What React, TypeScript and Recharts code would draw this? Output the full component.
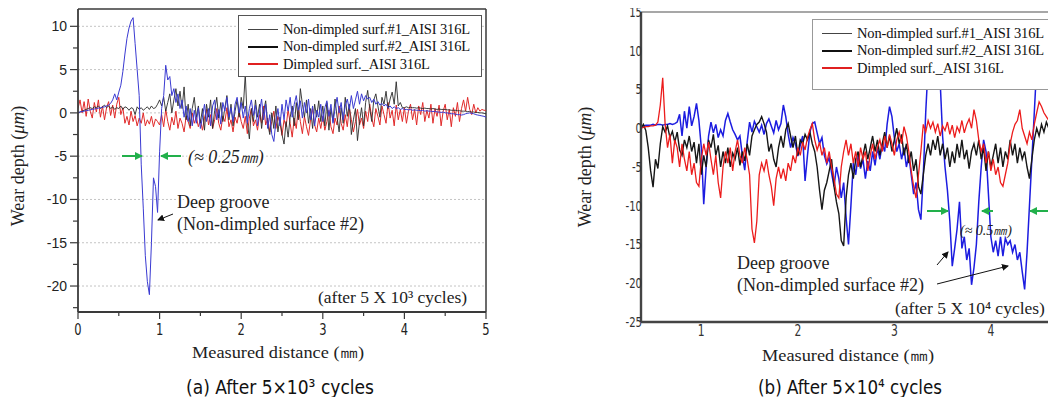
import { LineChart, Line, XAxis, YAxis, ReferenceLine } from "recharts"

// profiles are sampled every 0.025 mm
const STEP = 0.025

// ---- (a) after 5x10^3 cycles ----
const A_START = 0
const A_SURF1 = [
  0, 0.1, 0.2, 0.3, 0.4, 0.5, 0.6, 0.5, 0.7, 0.6, 0.8, 0.5, 0.7, 0.9, 0.6, 0.8, 0.5, 0.7, 0.4, 0.6,
  0.5, 0.8, 0.4, 0.7, 0.6, 0.3, 0.6, 0.5, -0.2, 0.7, 0.4, 0.6, 0.3, 0.5, 0.7, 0.4, 0.8, 0.5, 0.6, 1.0,
  1.5, 0.8, 1.8, 0.2, 1.2, 2.2, 0.0, 1.5, 2.8, 0.8, 2.5, 0.5, 3.0, -0.8, 1.0, -1.5, 0.5, 1.8, -0.5, 0.8,
  -1.2, 0.5, -2.0, 1.0, -0.5, 1.5, -1.8, 0.3, 1.8, -0.6, 1.2, -1.0, 0.6, 2.0, -0.8, 1.0, -1.5, 0.2, 1.5, -0.5,
  1.8, 0.5, 4.5, -1.0, -3.0, 0.5, -1.0, 1.5, -0.5, 1.0, -1.8, 0.2, 1.4, -1.2, -2.5, 0.0, -1.8, 0.8, -2.2, -0.5,
  -2.5, -3.6, -1.0, -2.8, -0.5, 0.8, -1.5, 1.2, -0.8, 2.8, 1.0, -0.5, 1.5, -1.2, 0.5, -1.8, 1.0, -0.5, 1.4, -1.0,
  0.8, -1.5, 1.2, -2.0, 0.5, -1.0, 1.6, -0.5, -2.2, 0.6, -1.2, 1.8, -0.4, 1.0, -2.5, -0.8, 0.5, -3.2, -1.0, 0.6,
  -1.5, 1.2, 2.6, 0.5, -1.0, 1.5, 2.2, 0.8, -0.5, 1.8, 1.0, 2.5, 0.5, 1.6, 2.4, 1.0, 3.6, 0.8, 1.2, 0.6,
  0.6, 0.7, 0.6, 0.65, 0.6, 0.6, 0.55, 0.6, 0.55, 0.5, 0.55, 0.5, 0.5, 0.45, 0.5, 0.45, 0.4, 0.45, 0.4, 0.4,
  0.4, 0.35, 0.35, 0.3, 0.3, 0.3, 0.25, 0.25, 0.2, 0.2, 0.2, 0.15, 0.15, 0.1, 0.1, 0.05, 0.05, 0.0, 0.0, -0.05,
  -0.1,
]
const A_SURF2 = [
  0, 0.1, 0.15, 0.2, 0.25, 0.3, 0.35, 0.4, 0.45, 0.5, 0.55, 0.6, 0.65, 0.7, 0.8, 0.9, 1.1, 1.5, 2.2, 1.5,
  2.4, 3.2, 4.8, 6.8, 8.6, 9.8, 10.6, 11.0, 8.0, 5.0, 2.0, -6.0, -11.0, -16.5, -19.5, -21.0, -15.0, -7.5, -8.5, -11.5,
  -4.5, 0.5, 2.0, 5.5, 3.8, 4.2, 2.0, 2.8, 1.2, 2.2, 0.5, 1.5, -0.5, 0.8, -1.0, 0.5, -1.5, 0.3, -1.2, 0.6,
  -1.8, -0.5, 1.0, -1.0, 0.5, -1.5, 0.8, 1.5, -0.8, 0.4, -1.3, 1.2, 0.2, 1.8, -0.5, 0.6, -1.0, 1.0, 1.8, 0.0,
  1.2, -0.6, 0.8, -1.2, 0.5, 1.5, -0.3, 0.9, -1.5, 0.2, 1.6, -0.8, 1.0, -1.8, -0.2, -2.5, -3.3, -1.0, 0.5, -1.5,
  1.0, -0.8, 1.5, 0.2, 1.8, -0.5, 1.0, 2.0, 0.3, 1.4, -0.6, 1.2, 0.0, 1.6, -0.8, 0.8, -1.5, 0.3, -0.5, 1.0,
  -1.0, 0.6, 1.4, -0.4, 1.0, -1.2, 0.5, 1.8, 0.0, 1.2, -0.8, 0.8, 1.6, 0.4, 2.0, 0.5, 1.5, 2.5, 1.0, 2.2,
  1.4, 2.0, 1.6, 1.8, 1.2, 1.6, 1.0, 1.3, 0.9, 1.1, 0.8, 1.0, 0.6, 0.8, 0.5, 0.7, 0.5, 0.6, 0.4, 0.5,
  0.4, 0.4, 0.35, 0.4, 0.3, 0.35, 0.3, 0.3, 0.25, 0.3, 0.2, 0.25, 0.2, 0.2, 0.15, 0.2, 0.1, 0.1, 0.05, 0.1,
  0.0, 0.0, -0.05, -0.1, -0.1, -0.15, -0.2, -0.2, -0.25, -0.2, -0.1, -0.05, 0.0, -0.05, -0.1, -0.2, -0.25, -0.3, -0.35, -0.4,
  -0.5,
]
const A_DIMPLED = [
  0.5, 1.5, 0.0, 1.3, -0.4, 1.6, 0.2, -0.6, 1.2, 0.1, 1.5, -0.5, 0.8, -0.8, 0.6, 1.3, -0.3, 0.9, -0.6, 1.0,
  1.8, -0.2, 0.6, -1.2, -0.4, -1.4, 0.2, -1.0, -0.3, -1.5, -0.6, -1.2, 0.0, -1.5, -0.8, -1.3, -0.4, -1.6, -0.7, -1.0,
  -1.4, -0.2, -1.6, 0.4, -1.0, -2.0, -0.5, -1.4, 0.2, -1.8, -0.6, -1.2, -2.2, -0.4, -1.0, -1.8, 0.0, -1.2, -0.5, -1.6,
  -0.8, -2.0, -0.6, 0.4, -1.4, -0.2, -1.8, -0.8, 0.5, -1.2, -2.0, -0.4, -1.0, 0.6, -1.6, -0.8, -2.2, -0.5, -1.2, 0.2,
  -1.0, -1.8, -0.4, -2.4, -0.6, 0.5, -1.5, -0.8, -2.0, -0.2, -1.2, 0.8, -1.4, -0.6, -2.2, -1.0, 0.2, -1.8, -0.4, -1.2,
  -2.6, -0.8, -1.6, 0.4, -1.2, -2.8, -0.6, -1.8, 0.6, -1.0, -2.4, -0.4, -1.6, -2.6, -0.8, 0.5, -1.4, -2.2, -0.6, -1.8,
  -0.4, -2.0, -1.0, 0.3, -1.6, -2.4, -0.6, -1.4, 0.8, -1.2, -2.0, -0.2, -1.6, 0.6, -0.8, -2.2, -1.0, 0.4, -1.4, -0.6,
  -1.8, 0.2, -1.0, 1.0, -0.6, -1.6, 0.5, -0.4, -1.4, 0.8, -0.2, -1.2, 1.2, -0.6, 0.3, -1.5, 0.9, -0.8, 0.4, -1.0,
  0.6, -1.2, 0.2, 1.0, -0.8, 0.4, -1.4, 0.8, -0.2, 1.2, -1.0, 0.3, -0.6, 1.0, -1.2, 0.5, -0.4, 0.9, -1.5, 0.2,
  1.0, -0.8, 0.4, -1.6, 0.6, -0.4, 1.2, -1.0, 0.5, 1.5, 0.2, 1.8, 0.4, -0.2, 1.0, 0.0, 0.6, 0.2, 0.4, 0.3,
  0.3,
]
const A_X_TICKS = [0, 0.5, 1, 1.5, 2, 2.5, 3, 3.5, 4, 4.5, 5]
const A_Y_TICKS = [-22.5, -20, -17.5, -15, -12.5, -10, -7.5, -5, -2.5, 0, 2.5, 5, 7.5, 10]
const A_GRID = [10, 5, 0, -5, -10, -15, -20]

// ---- (b) after 5x10^4 cycles ----
const B_START = 0.375
const B_SURF1 = [
  0.0, 0.5, -0.3, -2.5, -5.5, -7.6, -4.0, -5.2, -2.0, 0.2, -0.5, 0.3, -1.2, -0.4, -1.8, -0.5, -2.8, -3.5, -1.5, -2.5,
  -1.0, -3.0, -1.8, -4.5, -2.0, -6.0, -3.5, -5.0, -1.5, -2.5, -0.8, -3.5, -2.2, -5.0, -3.0, -4.5, -2.5, -5.0, -3.2, -4.0,
  -2.5, -4.8, -3.0, -4.2, -2.0, -3.5, -1.0, -0.2, 0.5, 0.8, 1.5, 0.6, -0.5, -3.0, -2.0, -4.0, -5.0, -2.5, -1.0, -2.5,
  -0.2, 0.6, -1.0, -2.5, -1.0, -3.5, -1.5, -2.0, -0.8, -1.5, -0.5, -2.0, -3.0, -5.0, -8.0, -10.5, -8.0, -7.0, -5.5, -4.0,
  -7.5, -9.5, -11.0, -14.5, -15.2, -9.0, -6.0, -4.5, -6.5, -4.0, -3.0, -5.0, -3.5, -2.0, -4.0, -2.5, -1.0, -3.0, -1.5, -3.5,
  -2.0, -0.5, -2.5, -1.0, -3.0, -1.5, 0.0, -2.0, -0.8, -3.5, -2.0, -4.5, -3.0, -5.5, -4.0, -7.5, -8.5, -6.0, -3.5, -2.0,
  -3.5, -1.5, -2.8, -1.0, -3.5, -2.0, -4.0, -2.5, -5.0, -3.0, -4.5, -2.0, -3.8, -1.5, -4.0, -2.8, -5.2, -3.0, -2.0, -3.5,
  -1.5, -4.0, -2.5, -5.5, -3.0, -5.0, -3.5, -2.0, -4.5, -2.5, -5.0, -3.0, -4.0, -1.5, -3.5, -2.0, -4.5, -2.5, -4.0, -3.0,
  -5.0, -6.5, -4.0, -1.5, 0.0, -1.0, 0.5, -0.5, 0.8, 0.0, 1.0, 0.3, 1.2,
]
const B_SURF2 = [
  0.3, 0.3, 0.4, 0.4, 0.4, 0.5, 0.4, 0.5, 0.5, 0.4, 0.5, 0.5, 0.6, 0.5, 0.6, 0.8, 1.8, -1.0, 2.2, 0.0,
  2.8, 0.3, 1.5, 3.2, 1.0, -2.5, -9.8, -5.0, -1.0, 0.8, -0.6, 0.5, -1.2, -0.2, -1.0, 1.0, 1.9, 0.8, -0.2, -0.8,
  -1.5, -1.0, -3.5, -5.4, -1.8, 0.8, -0.5, 0.9, 0.2, -0.5, 0.4, -0.8, 0.6, 1.2, 0.3, -0.6, 1.0, -0.2, 0.6, 3.0,
  1.5, -0.8, -2.5, -1.2, -2.0, -3.6, -2.2, -1.0, -6.8, -3.5, -0.5, 0.6, 0.8, -0.6, -2.0, -1.2, -3.5, -4.6, -3.8, -5.8,
  -7.5, -5.0, -6.5, -9.0, -7.0, -11.5, -15.0, -10.0, -4.5, -6.0, -3.5, -5.2, -4.0, -6.5, -4.2, -5.5, -3.0, -4.8, -2.5, -4.0,
  -2.0, -3.0, 0.5, 2.8, 1.5, -1.2, -3.0, -2.0, -4.0, -2.5, -5.0, -3.5, -6.0, -8.5, -7.0, -10.5, -11.8, -6.0, 2.0, 8.0,
  9.0, 8.5, 9.0, 8.0, 6.0, -1.0, -5.0, -8.0, -12.0, -17.8, -15.5, -13.0, -9.5, -15.5, -14.0, -17.0, -15.5, -20.2, -18.0, -15.0,
  -9.5, -5.0, -1.5, -3.0, -8.5, -14.0, -16.0, -14.5, -16.5, -14.0, -16.5, -14.2, -15.0, -14.5, -16.0, -15.0, -17.0, -16.0, -18.5, -20.8,
  -16.0, -10.0, -4.0, 2.0, 8.0, 9.0, 8.5, 9.0, 8.0, 6.0, 4.8, 3.8, 3.0,
]
const B_DIMPLED = [
  0.0, 0.1, 0.2, 0.2, 0.3, 0.3, 0.4, 0.8, 3.0, 6.5, 0.5, -2.5, -0.8, -4.5, -1.5, -2.5, -5.0, -2.0, -4.0, -5.5,
  -3.0, -6.0, -4.5, -7.0, -7.5, -4.0, -2.0, -3.5, -1.8, -4.0, -6.0, -3.5, -7.0, -9.0, -5.0, -3.0, -4.5, -2.5, -5.5, -3.0,
  -1.5, -3.5, -4.5, -2.5, -4.0, -6.0, -13.0, -14.8, -12.0, -6.0, -4.5, -5.5, -4.0, -6.0, -7.5, -10.0, -6.5, -5.0, -6.5, -5.2,
  -6.8, -4.5, -5.5, -3.5, -4.5, -2.5, -3.5, -1.8, -2.8, -1.2, -0.2, 0.6, -1.5, -2.8, -1.8, -3.5, -2.5, -4.5, -3.0, -5.0,
  -6.5, -8.5, -9.0, -5.0, -3.0, -1.5, -3.5, -2.0, -4.5, -3.0, -5.0, -2.5, -4.0, -3.0, -5.5, -3.5, -2.0, -4.0, -2.5, -1.5,
  -3.0, -1.0, -2.5, -0.8, -2.0, -3.5, -1.5, -0.5, -2.0, 0.2, -1.0, -3.0, -5.5, -7.5, -9.0, -6.0, -3.0, 0.5, -0.5, 1.0,
  0.0, 0.8, -0.5, 0.6, -1.0, 0.3, -0.3, 0.8, -0.8, 0.4, -1.2, 0.2, -0.5, 1.0, -0.6, 0.5, 1.2, 0.0, 2.4, 1.0,
  -1.5, -3.0, -2.0, -4.5, -3.0, -5.5, -4.0, -6.0, -5.0, -7.0, -7.5, -6.0, -4.5, -2.0, -0.5, 0.5, 1.0, 2.4, 0.0, -1.0,
  -2.0, -0.5, -1.5, 0.5, 2.0, 3.4, 2.8, 2.0, 1.5, 1.0, 0.8, 0.6, 0.7,
]
const B_X_TICKS = [1, 2, 3, 4]
const B_Y_TICKS = [15, 10, 5, 0, -5, -10, -15, -20, -25]

const LEGEND_LABELS = [
  "Non-dimpled surf.#1_AISI 316L",
  "Non-dimpled surf.#2_AISI 316L",
  "Dimpled surf._AISI 316L",
]

const SERIF = "'Liberation Serif', 'Times New Roman', serif"
const NARROW = "'Liberation Sans Narrow', 'Arial Narrow', 'DejaVu Sans Condensed', sans-serif"
const SANS = "'Liberation Sans', Arial, sans-serif"
const FRAME = "#3a3a3a"

function buildRows(start: number, cols: Record<string, number[]>) {
  const n = Math.max(...Object.values(cols).map((c) => c.length))
  return Array.from({ length: n }, (_, i) => {
    const row: Record<string, number> = { x: +(start + i * STEP).toFixed(3) }
    for (const k of Object.keys(cols)) row[k] = cols[k][i]
    return row
  })
}

const A_ROWS = buildRows(A_START, { s1: A_SURF1, s2: A_SURF2, dim: A_DIMPLED })
const B_ROWS = buildRows(B_START, { s1: B_SURF1, s2: B_SURF2, dim: B_DIMPLED })

// plot boxes (chart-local px)
const A_PLOT = { left: 78, bottom: 312 }
const B_PLOT = { left: 71, bottom: 322 }

function AYTick({ y, payload }: any) {
  const major = payload.value % 5 === 0
  return (
    <g>
      <line x1={A_PLOT.left - (major ? 8 : 5)} x2={A_PLOT.left} y1={y} y2={y} stroke={FRAME} strokeWidth={1.2} />
      {major && (
        <text x={A_PLOT.left - 11} y={y} dy={5} textAnchor="end" fontSize={14} fontFamily={SANS} fill="#222">
          {payload.value}
        </text>
      )}
    </g>
  )
}

function AXTick({ x, payload }: any) {
  const major = Number.isInteger(payload.value)
  return (
    <g>
      <line x1={x} x2={x} y1={A_PLOT.bottom} y2={A_PLOT.bottom + (major ? 7 : 4)} stroke={FRAME} strokeWidth={1.2} />
      {major && (
        <text
          x={x}
          y={A_PLOT.bottom + 23}
          textAnchor="middle"
          fontSize={16}
          fontFamily={NARROW}
          fill="#222"
          transform={`translate(${x * 0.2},0) scale(0.8,1)`}
        >
          {payload.value}
        </text>
      )}
    </g>
  )
}

function BYTick({ y, payload }: any) {
  const x = B_PLOT.left + 1
  return (
    <text
      x={x}
      y={y}
      dy={5}
      textAnchor="end"
      fontSize={14}
      fontFamily={NARROW}
      fill="#333"
      transform={`translate(${x * 0.2},0) scale(0.8,1)`}
    >
      {payload.value}
    </text>
  )
}

function BXTick({ x, payload }: any) {
  return (
    <text
      x={x}
      y={B_PLOT.bottom + 14}
      textAnchor="middle"
      fontSize={15}
      fontFamily={NARROW}
      fill="#333"
      transform={`translate(${x * 0.2},0) scale(0.8,1)`}
    >
      {payload.value}
    </text>
  )
}

function PanelA() {
  return (
    <LineChart width={500} height={345} data={A_ROWS} margin={{ top: 9, right: 14, bottom: 8, left: 38 }}>
      {A_GRID.map((v) => (
        <ReferenceLine key={v} y={v} stroke="#c4c4c4" strokeDasharray="2 2" strokeWidth={1} />
      ))}
      <XAxis
        type="number"
        dataKey="x"
        domain={[0, 5]}
        ticks={A_X_TICKS}
        interval={0}
        height={25}
        tick={(p: any) => <AXTick {...p} />}
        tickLine={false}
        axisLine={{ stroke: FRAME, strokeWidth: 1.8 }}
        allowDataOverflow
      />
      <YAxis
        type="number"
        domain={[-23, 12]}
        ticks={A_Y_TICKS}
        interval={0}
        width={40}
        tick={(p: any) => <AYTick {...p} />}
        tickLine={false}
        axisLine={{ stroke: FRAME, strokeWidth: 1.8 }}
        allowDataOverflow
      />
      <ReferenceLine x={5} stroke={FRAME} strokeWidth={1.5} ifOverflow="visible" />
      <ReferenceLine y={12} stroke={FRAME} strokeWidth={1.5} ifOverflow="visible" />
      <Line dataKey="dim" type="linear" stroke="#e12a2a" strokeWidth={1} dot={false} isAnimationActive={false} />
      <Line dataKey="s1" type="linear" stroke="#2a2a2a" strokeWidth={0.9} dot={false} isAnimationActive={false} />
      <Line dataKey="s2" type="linear" stroke="#3a3ad2" strokeWidth={1} dot={false} isAnimationActive={false} />
    </LineChart>
  )
}

function PanelB() {
  return (
    <LineChart width={486} height={345} data={B_ROWS} margin={{ top: 12, right: 0, bottom: 0, left: 31 }}>
      <XAxis
        type="number"
        dataKey="x"
        domain={[0.375, 4.675]}
        ticks={B_X_TICKS}
        interval={0}
        height={23}
        tick={(p: any) => <BXTick {...p} />}
        tickLine={false}
        axisLine={{ stroke: "#444", strokeWidth: 2.4 }}
        allowDataOverflow
      />
      <YAxis
        type="number"
        domain={[-25, 15]}
        ticks={B_Y_TICKS}
        interval={0}
        width={40}
        tick={(p: any) => <BYTick {...p} />}
        tickLine={false}
        axisLine={{ stroke: "#444", strokeWidth: 2.4 }}
        allowDataOverflow
      />
      <ReferenceLine y={15} stroke="#8a8a8a" strokeWidth={1.5} ifOverflow="visible" />
      <Line dataKey="s2" type="linear" stroke="#1c1ce0" strokeWidth={1.5} dot={false} isAnimationActive={false} />
      <Line dataKey="s1" type="linear" stroke="#161616" strokeWidth={1.4} dot={false} isAnimationActive={false} />
      <Line dataKey="dim" type="linear" stroke="#ec1c1c" strokeWidth={1.3} dot={false} isAnimationActive={false} />
    </LineChart>
  )
}

const LEGEND_STROKES = [
  { color: "#444", width: 1 },
  { color: "#111", width: 2 },
  { color: "#e02020", width: 1.5 },
]

function LegendBox({ left, top, width, height, border, rowGap }: any) {
  return (
    <div
      style={{
        position: "absolute",
        left,
        top,
        width,
        height,
        background: "#fff",
        border,
        boxSizing: "border-box",
      }}
    >
      {LEGEND_LABELS.map((label, i) => (
        <div
          key={label}
          style={{
            position: "absolute",
            left: 9,
            top: 4 + i * rowGap,
            height: 18,
            display: "flex",
            alignItems: "center",
            whiteSpace: "nowrap",
          }}
        >
          <div style={{ width: 30, height: LEGEND_STROKES[i].width, background: LEGEND_STROKES[i].color }} />
          <span style={{ marginLeft: 5, fontFamily: SERIF, fontSize: 14.5, letterSpacing: -0.15, color: "#111" }}>
            {label}
          </span>
        </div>
      ))}
    </div>
  )
}

const halo = { stroke: "#fff", strokeWidth: 4, paintOrder: "stroke" as const }

function Annotations() {
  return (
    <svg width={1056} height={405} style={{ position: "absolute", left: 0, top: 0, pointerEvents: "none" }}>
      <defs>
        <marker id="gHead" markerWidth="8" markerHeight="8" refX="7" refY="4" orient="auto" markerUnits="userSpaceOnUse">
          <path d="M0,0 L8,4 L0,8 z" fill="#22b04b" />
        </marker>
        <marker id="kHead" markerWidth="7" markerHeight="7" refX="6" refY="3.5" orient="auto" markerUnits="userSpaceOnUse">
          <path d="M0,0 L7,3.5 L0,7 z" fill="#111" />
        </marker>
      </defs>

      {/* axis titles */}
      <text transform="translate(24,166) rotate(-90)" textAnchor="middle" fontFamily={SERIF} fontSize={18} fill="#222">
        Wear depth (<tspan fontStyle="italic">μm</tspan>)
      </text>
      <text transform="translate(591,167) rotate(-90)" textAnchor="middle" fontFamily={SERIF} fontSize={18} fill="#222">
        Wear depth (<tspan fontStyle="italic">μm</tspan>)
      </text>
      <text x={192} y={358} fontFamily={SERIF} fontSize={17} fill="#222" textLength={172} lengthAdjust="spacingAndGlyphs">
        Measured distance (㎜)
      </text>
      <text x={762} y={361} fontFamily={SERIF} fontSize={17} fill="#222" textLength={172} lengthAdjust="spacingAndGlyphs">
        Measured distance (㎜)
      </text>

      {/* captions */}
      <text x={186} y={394} fontFamily={NARROW} fontSize={20} fill="#111" textLength={188} lengthAdjust="spacingAndGlyphs">
        (a) After 5×10³ cycles
      </text>
      <text x={758} y={394} fontFamily={NARROW} fontSize={20} fill="#111" textLength={184} lengthAdjust="spacingAndGlyphs">
        (b) After 5×10⁴ cycles
      </text>

      {/* panel (a) notes */}
      <line x1={122} y1={156} x2={142} y2={156} stroke="#22b04b" strokeWidth={2} markerEnd="url(#gHead)" />
      <line x1={181} y1={156} x2={161} y2={156} stroke="#22b04b" strokeWidth={2} markerEnd="url(#gHead)" />
      <text x={188} y={163} fontFamily={SERIF} fontStyle="italic" fontSize={18} fill="#222" style={halo}>
        (≈ 0.25㎜)
      </text>
      <text x={177} y={208} fontFamily={SERIF} fontSize={18} fill="#222" style={halo}>
        Deep groove
      </text>
      <text x={177} y={230} fontFamily={SERIF} fontSize={18} fill="#222" style={halo}>
        (Non-dimpled surface #2)
      </text>
      <line x1={173} y1={214} x2={158} y2={220} stroke="#111" strokeWidth={1} markerEnd="url(#kHead)" />
      <text x={318} y={303} fontFamily={SERIF} fontSize={17.5} fill="#222" style={halo}>
        (after 5 X 10³ cycles)
      </text>

      {/* panel (b) notes */}
      <line x1={927} y1={211} x2={948} y2={211} stroke="#22b04b" strokeWidth={2} markerEnd="url(#gHead)" />
      <line x1={993} y1={211} x2={982} y2={211} stroke="#22b04b" strokeWidth={2} markerEnd="url(#gHead)" />
      <line x1={1050} y1={211} x2={1030} y2={211} stroke="#22b04b" strokeWidth={2} markerEnd="url(#gHead)" />
      <text x={960} y={235} fontFamily={SERIF} fontStyle="italic" fontSize={14} fill="#222">
        (≈ 0.5㎜)
      </text>
      <text x={737} y={269} fontFamily={SERIF} fontSize={18} fill="#222">
        Deep groove
      </text>
      <text x={737} y={291} fontFamily={SERIF} fontSize={18} fill="#222">
        (Non-dimpled surface #2)
      </text>
      <line x1={937} y1={265} x2={948} y2={252} stroke="#111" strokeWidth={1} markerEnd="url(#kHead)" />
      <line x1={937} y1={284} x2={1008} y2={266} stroke="#111" strokeWidth={1} markerEnd="url(#kHead)" />
      <text x={895} y={314} fontFamily={SERIF} fontSize={17.5} fill="#222">
        (after 5 X 10⁴ cycles)
      </text>
    </svg>
  )
}

export default function App() {
  return (
    <div style={{ position: "relative", width: 1056, height: 405, margin: -8, overflow: "hidden", background: "#fff" }}>
      <div style={{ position: "absolute", left: 0, top: 0 }}>
        <PanelA />
      </div>
      <div style={{ position: "absolute", left: 570, top: 0 }}>
        <PanelB />
      </div>
      <LegendBox left={238} top={15} width={244} height={62} border={`1.5px solid #555`} rowGap={17.5} />
      <LegendBox left={812} top={19} width={260} height={71} border={`1px solid #999`} rowGap={17.5} />
      <Annotations />
    </div>
  )
}
